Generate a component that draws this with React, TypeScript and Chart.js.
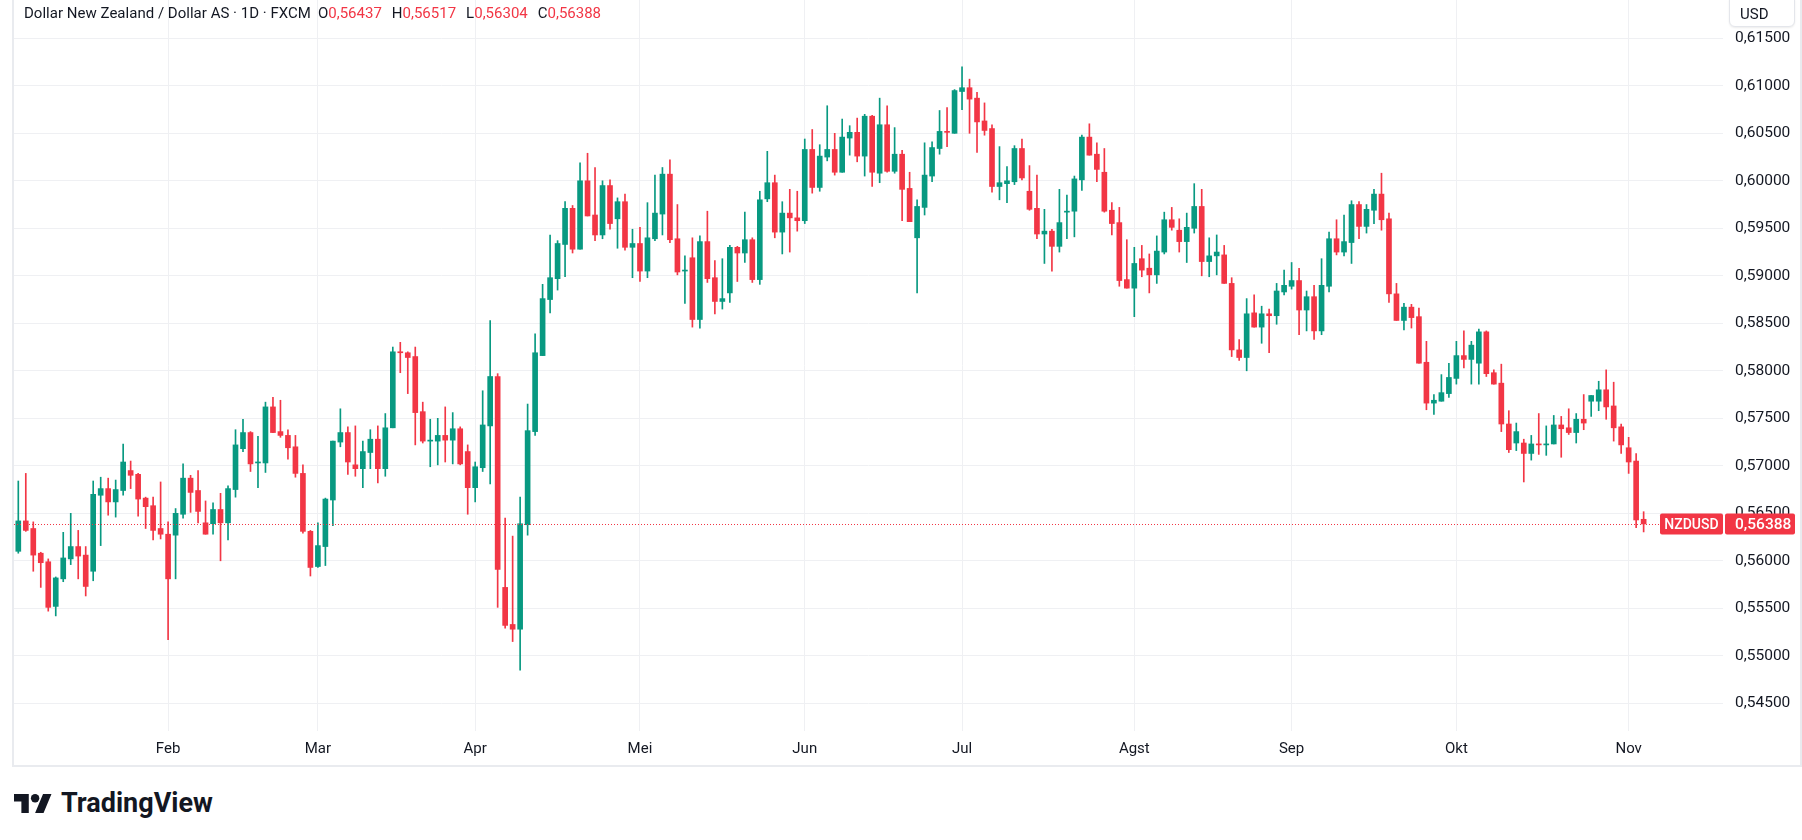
import React, { useEffect, useRef } from 'react';
import { Chart, registerables } from 'chart.js';

Chart.register(...registerables);

// ---- data (daily candles, 6 Jan 2025 .. 5 Nov 2025) ----
const opens = [
  0.5610, 0.5642, 0.5634, 0.5608, 0.5599, 0.5552, 0.5581, 0.5602, 0.5615, 0.5606,
  0.5589, 0.5669, 0.5676, 0.5662, 0.5674, 0.5695, 0.5691, 0.5666, 0.5658, 0.5634,
  0.5628, 0.5627, 0.5649, 0.5687, 0.5674, 0.5640, 0.5639, 0.5654, 0.5640, 0.5675,
  0.5718, 0.5735, 0.5703, 0.5703, 0.5762, 0.5736, 0.5732, 0.5720, 0.5692, 0.5631,
  0.5594, 0.5615, 0.5664, 0.5725, 0.5735, 0.5701, 0.5697, 0.5714, 0.5728, 0.5697,
  0.5740, 0.5820, 0.5819, 0.5815, 0.5757, 0.5726, 0.5726, 0.5732, 0.5727, 0.5739,
  0.5715, 0.5677, 0.5698, 0.5742, 0.5794, 0.5572, 0.5533, 0.5528, 0.5638, 0.5736,
  0.5816, 0.5875, 0.5897, 0.5933, 0.5971, 0.5928, 0.6000, 0.5964, 0.5943, 0.5995,
  0.5960, 0.5978, 0.5930, 0.5934, 0.5905, 0.5939, 0.5965, 0.6007, 0.5939, 0.5905,
  0.5919, 0.5854, 0.5936, 0.5898, 0.5873, 0.5882, 0.5930, 0.5924, 0.5938, 0.5896,
  0.5981, 0.5998, 0.5946, 0.5966, 0.5961, 0.5958, 0.6033, 0.5993, 0.6025, 0.6033,
  0.6009, 0.6045, 0.6051, 0.6026, 0.6068, 0.6008, 0.6059, 0.6010, 0.6028, 0.5992,
  0.5940, 0.5972, 0.6005, 0.6034, 0.6052, 0.6050, 0.6094, 0.6098, 0.6087, 0.6063,
  0.6055, 0.5994, 0.5997, 0.5999, 0.6034, 0.5989, 0.5971, 0.5944, 0.5947, 0.5931,
  0.5967, 0.5968, 0.6001, 0.6046, 0.6028, 0.6009, 0.5969, 0.5956, 0.5896, 0.5887,
  0.5918, 0.5908, 0.5901, 0.5925, 0.5959, 0.5948, 0.5936, 0.5950, 0.5973, 0.5915,
  0.5921, 0.5922, 0.5892, 0.5822, 0.5814, 0.5861, 0.5846, 0.5860, 0.5858, 0.5883,
  0.5889, 0.5895, 0.5864, 0.5878, 0.5842, 0.5889, 0.5939, 0.5925, 0.5935, 0.5975,
  0.5952, 0.5969, 0.5986, 0.5960, 0.5881, 0.5853, 0.5867, 0.5857, 0.5809, 0.5766,
  0.5768, 0.5776, 0.5792, 0.5816, 0.5812, 0.5808, 0.5841, 0.5798, 0.5787, 0.5744,
  0.5724, 0.5724, 0.5713, 0.5723, 0.5722, 0.5723, 0.5743, 0.5740, 0.5735, 0.5749,
  0.5768, 0.5768, 0.5780, 0.5763, 0.5741, 0.5719, 0.5705, 0.56437,
];
const highs = [
  0.5684, 0.5692, 0.5641, 0.5609, 0.5602, 0.5583, 0.5630, 0.5650, 0.5632, 0.5615,
  0.5684, 0.5688, 0.5687, 0.5685, 0.5723, 0.5705, 0.5692, 0.5667, 0.5667, 0.5683,
  0.5641, 0.5655, 0.5702, 0.5690, 0.5695, 0.5663, 0.5661, 0.5671, 0.5679, 0.5738,
  0.5749, 0.5736, 0.5731, 0.5767, 0.5772, 0.5769, 0.5738, 0.5732, 0.5701, 0.5632,
  0.5640, 0.5666, 0.5726, 0.5760, 0.5741, 0.5742, 0.5726, 0.5738, 0.5742, 0.5755,
  0.5825, 0.5830, 0.5820, 0.5825, 0.5767, 0.5749, 0.5750, 0.5762, 0.5756, 0.5741,
  0.5722, 0.5704, 0.5779, 0.5853, 0.5797, 0.5645, 0.5626, 0.5667, 0.5765, 0.5839,
  0.5891, 0.5943, 0.5937, 0.5978, 0.5974, 0.6019, 0.6029, 0.6014, 0.6000, 0.6001,
  0.5982, 0.5986, 0.5949, 0.5951, 0.5977, 0.6006, 0.6014, 0.6022, 0.5975, 0.5921,
  0.5940, 0.5942, 0.5968, 0.5916, 0.5918, 0.5932, 0.5931, 0.5967, 0.5940, 0.5989,
  0.6031, 0.6006, 0.5978, 0.5991, 0.5989, 0.6044, 0.6054, 0.6038, 0.6079, 0.6050,
  0.6065, 0.6058, 0.6066, 0.6070, 0.6069, 0.6087, 0.6079, 0.6056, 0.6032, 0.6009,
  0.5980, 0.6040, 0.6041, 0.6074, 0.6077, 0.6096, 0.6120, 0.6107, 0.6093, 0.6082,
  0.6059, 0.6036, 0.6015, 0.6037, 0.6044, 0.6016, 0.6006, 0.5970, 0.5949, 0.5991,
  0.5985, 0.6005, 0.6048, 0.6060, 0.6040, 0.6034, 0.5977, 0.5972, 0.5938, 0.5930,
  0.5932, 0.5923, 0.5942, 0.5967, 0.5972, 0.5960, 0.5966, 0.5997, 0.5991, 0.5940,
  0.5943, 0.5932, 0.5898, 0.5833, 0.5876, 0.5880, 0.5868, 0.5865, 0.5892, 0.5906,
  0.5914, 0.5908, 0.5884, 0.5890, 0.5918, 0.5946, 0.5959, 0.5964, 0.5979, 0.5978,
  0.5975, 0.5991, 0.6008, 0.5966, 0.5892, 0.5871, 0.5870, 0.5866, 0.5831, 0.5775,
  0.5796, 0.5808, 0.5831, 0.5842, 0.5831, 0.5844, 0.5842, 0.5801, 0.5807, 0.5758,
  0.5745, 0.5728, 0.5732, 0.5755, 0.5742, 0.5753, 0.5752, 0.5760, 0.5755, 0.5775,
  0.5774, 0.5789, 0.5801, 0.5788, 0.5744, 0.5730, 0.5713, 0.56517,
];
const lows = [
  0.5608, 0.5631, 0.5589, 0.5572, 0.5547, 0.5542, 0.5578, 0.5596, 0.5581, 0.5563,
  0.5579, 0.5616, 0.5648, 0.5646, 0.5669, 0.5676, 0.5647, 0.5634, 0.5622, 0.5623,
  0.5517, 0.5581, 0.5645, 0.5651, 0.5640, 0.5628, 0.5628, 0.5600, 0.5622, 0.5667,
  0.5715, 0.5694, 0.5677, 0.5693, 0.5735, 0.5730, 0.5707, 0.5688, 0.5629, 0.5584,
  0.5593, 0.5595, 0.5637, 0.5720, 0.5691, 0.5689, 0.5677, 0.5697, 0.5682, 0.5689,
  0.5740, 0.5798, 0.5776, 0.5722, 0.5724, 0.5699, 0.5701, 0.5704, 0.5702, 0.5701,
  0.5649, 0.5662, 0.5694, 0.5681, 0.5551, 0.5529, 0.5515, 0.5485, 0.5627, 0.5732,
  0.5816, 0.5861, 0.5885, 0.5899, 0.5924, 0.5928, 0.5963, 0.5937, 0.5939, 0.5949,
  0.5929, 0.5927, 0.5898, 0.5894, 0.5898, 0.5937, 0.5943, 0.5935, 0.5901, 0.5871,
  0.5846, 0.5845, 0.5893, 0.5860, 0.5865, 0.5872, 0.5894, 0.5914, 0.5893, 0.5891,
  0.5978, 0.5940, 0.5923, 0.5925, 0.5947, 0.5955, 0.5987, 0.5989, 0.6021, 0.6006,
  0.6009, 0.6027, 0.6020, 0.6005, 0.5994, 0.5998, 0.6009, 0.6008, 0.5958, 0.5957,
  0.5882, 0.5964, 0.5999, 0.6028, 0.6036, 0.6050, 0.6075, 0.6050, 0.6030, 0.6048,
  0.5988, 0.5980, 0.5977, 0.5996, 0.6001, 0.5969, 0.5939, 0.5913, 0.5905, 0.5925,
  0.5939, 0.5941, 0.5990, 0.6027, 0.5999, 0.5967, 0.5943, 0.5889, 0.5887, 0.5857,
  0.5899, 0.5882, 0.5892, 0.5923, 0.5948, 0.5925, 0.5914, 0.5945, 0.5900, 0.5899,
  0.5901, 0.5892, 0.5815, 0.5811, 0.5800, 0.5846, 0.5829, 0.5819, 0.5849, 0.5880,
  0.5886, 0.5838, 0.5842, 0.5833, 0.5838, 0.5883, 0.5922, 0.5921, 0.5913, 0.5939,
  0.5945, 0.5955, 0.5948, 0.5872, 0.5853, 0.5843, 0.5845, 0.5808, 0.5759, 0.5754,
  0.5768, 0.5772, 0.5786, 0.5803, 0.5786, 0.5786, 0.5794, 0.5786, 0.5736, 0.5714,
  0.5716, 0.5683, 0.5706, 0.5712, 0.5711, 0.5723, 0.5709, 0.5733, 0.5724, 0.5738,
  0.5752, 0.5758, 0.5749, 0.5726, 0.5713, 0.5692, 0.5635, 0.56304,
];
const closes = [
  0.5642, 0.5632, 0.5606, 0.5598, 0.5551, 0.5582, 0.5603, 0.5615, 0.5605, 0.5573,
  0.5670, 0.5676, 0.5662, 0.5675, 0.5704, 0.5690, 0.5665, 0.5657, 0.5632, 0.5628,
  0.5581, 0.5650, 0.5687, 0.5672, 0.5652, 0.5628, 0.5654, 0.5640, 0.5676, 0.5722,
  0.5735, 0.5702, 0.5704, 0.5762, 0.5735, 0.5732, 0.5719, 0.5692, 0.5631, 0.5593,
  0.5616, 0.5665, 0.5726, 0.5735, 0.5704, 0.5697, 0.5715, 0.5728, 0.5697, 0.5740,
  0.5820, 0.5819, 0.5814, 0.5756, 0.5726, 0.5727, 0.5732, 0.5727, 0.5739, 0.5702,
  0.5677, 0.5699, 0.5743, 0.5794, 0.5591, 0.5532, 0.5528, 0.5639, 0.5737, 0.5819,
  0.5876, 0.5898, 0.5934, 0.5971, 0.5928, 0.6000, 0.5963, 0.5943, 0.5995, 0.5955,
  0.5978, 0.5930, 0.5934, 0.5905, 0.5940, 0.5966, 0.6007, 0.5938, 0.5904, 0.5906,
  0.5854, 0.5936, 0.5897, 0.5873, 0.5876, 0.5930, 0.5924, 0.5938, 0.5896, 0.5980,
  0.5998, 0.5946, 0.5966, 0.5961, 0.5958, 0.6033, 0.5993, 0.6026, 0.6033, 0.6009,
  0.6046, 0.6051, 0.6026, 0.6068, 0.6009, 0.6059, 0.6010, 0.6028, 0.5991, 0.5957,
  0.5973, 0.6006, 0.6035, 0.6052, 0.6051, 0.6095, 0.6098, 0.6086, 0.6062, 0.6053,
  0.5994, 0.5998, 0.6000, 0.6034, 0.6003, 0.5970, 0.5944, 0.5947, 0.5931, 0.5956,
  0.5968, 0.6002, 0.6046, 0.6027, 0.6012, 0.5968, 0.5955, 0.5895, 0.5887, 0.5913,
  0.5906, 0.5901, 0.5926, 0.5959, 0.5951, 0.5936, 0.5951, 0.5973, 0.5915, 0.5921,
  0.5925, 0.5892, 0.5822, 0.5814, 0.5860, 0.5846, 0.5860, 0.5858, 0.5884, 0.5890,
  0.5895, 0.5864, 0.5878, 0.5842, 0.5890, 0.5939, 0.5925, 0.5936, 0.5975, 0.5952,
  0.5970, 0.5986, 0.5959, 0.5881, 0.5853, 0.5867, 0.5856, 0.5808, 0.5766, 0.5769,
  0.5777, 0.5793, 0.5816, 0.5812, 0.5827, 0.5841, 0.5797, 0.5786, 0.5744, 0.5717,
  0.5736, 0.5713, 0.5723, 0.5722, 0.5723, 0.5743, 0.5739, 0.5735, 0.5749, 0.5745,
  0.5774, 0.5780, 0.5762, 0.5740, 0.5722, 0.5704, 0.5643, 0.56388,
];

// x-axis: first trading day of each month (bar index) and its label
const monthTickIndex = [20, 40, 61, 83, 105, 126, 149, 170, 192, 215];
const monthTickLabels = ['Feb', 'Mar', 'Apr', 'Mei', 'Jun', 'Jul', 'Agst', 'Sep', 'Okt', 'Nov'];
// y-axis tick values
const priceTicks = [0.545, 0.55, 0.555, 0.56, 0.565, 0.57, 0.575, 0.58, 0.585, 0.59, 0.595, 0.6, 0.605, 0.61, 0.615];

const symbolName = 'NZDUSD';
const titleText = 'Dollar New Zealand / Dollar AS · 1D · FXCM';
const ohlcKeys = ['O', 'H', 'L', 'C'];
const ohlcValues = [0.56437, 0.56517, 0.56304, 0.56388];
const lastPrice = 0.56388;
const currencyLabel = 'USD';

// ---- styles ----
const GREEN = '#089981';
const RED = '#F23645';
const GRID = '#eff0f3';
const TEXT = '#131722';
const FONT = 'Roboto, "Noto Sans", sans-serif';

const fmt = (v: number) => v.toFixed(5).replace('.', ',');

const CANVAS_W = 1786;
const CANVAS_H = 765;
const Y_AXIS_W = 77;
const X_AXIS_H = 34;
const BAR_STEP = 7.49;
const FIRST_BAR_OFFSET = 4.3;
const PLOT_W = CANVAS_W - Y_AXIS_W;
const X_MIN = -FIRST_BAR_OFFSET / BAR_STEP;
const X_MAX = X_MIN + PLOT_W / BAR_STEP;
const Y_MIN = 0.542085;
const Y_MAX = 0.619032;

function roundRect(ctx: CanvasRenderingContext2D, x: number, y: number, w: number, h: number, r: number) {
  ctx.beginPath();
  ctx.moveTo(x + r, y);
  ctx.lineTo(x + w - r, y);
  ctx.quadraticCurveTo(x + w, y, x + w, y + r);
  ctx.lineTo(x + w, y + h - r);
  ctx.quadraticCurveTo(x + w, y + h, x + w - r, y + h);
  ctx.lineTo(x + r, y + h);
  ctx.quadraticCurveTo(x, y + h, x, y + h - r);
  ctx.lineTo(x, y + r);
  ctx.quadraticCurveTo(x, y, x + r, y);
  ctx.closePath();
}

const priceLinePlugin = {
  id: 'priceLine',
  afterDraw(chart: any) {
    const { ctx, chartArea, scales } = chart;
    const py = Math.round(scales.y.getPixelForValue(lastPrice));
    const symW = 63;
    const boxH = 21;
    ctx.save();
    ctx.strokeStyle = RED;
    ctx.lineWidth = 1;
    ctx.setLineDash([1, 2]);
    ctx.beginPath();
    ctx.moveTo(chartArea.left, py + 0.5);
    ctx.lineTo(chartArea.right - symW, py + 0.5);
    ctx.stroke();
    ctx.setLineDash([]);
    ctx.fillStyle = RED;
    roundRect(ctx, chartArea.right - symW, py - boxH / 2, symW, boxH, 2);
    ctx.fill();
    roundRect(ctx, chartArea.right + 2, py - boxH / 2, 70, boxH, 2);
    ctx.fill();
    ctx.fillStyle = '#ffffff';
    ctx.textBaseline = 'middle';
    ctx.textAlign = 'center';
    ctx.font = `500 14px ${FONT}`;
    ctx.fillText(symbolName, chartArea.right - symW / 2, py + 1);
    ctx.textAlign = 'left';
    ctx.font = `500 15.5px ${FONT}`;
    ctx.fillText(fmt(lastPrice), chartArea.right + 12, py + 1);
    ctx.restore();
  },
};

function CandleChart() {
  const ref = useRef<HTMLCanvasElement | null>(null);
  useEffect(() => {
    if (!ref.current) return;
    const colors = closes.map((c, i) => (c >= opens[i] ? GREEN : RED));
    const bodies = opens.map((o, i) => ({ x: i, y: [o, closes[i]] }));
    const wicks = lows.map((l, i) => ({ x: i, y: [l, highs[i]] }));
    const chart = new Chart(ref.current, {
      type: 'bar',
      data: {
        datasets: [
          {
            label: 'body',
            data: bodies as any,
            backgroundColor: colors,
            barThickness: 5,
            minBarLength: 1,
            borderWidth: 0,
            borderSkipped: false,
            grouped: false,
          } as any,
          {
            label: 'wick',
            data: wicks as any,
            backgroundColor: colors,
            barThickness: 1,
            minBarLength: 1,
            borderWidth: 0,
            borderSkipped: false,
            grouped: false,
          } as any,
        ],
      },
      options: {
        animation: false,
        responsive: false,
        maintainAspectRatio: false,
        events: [],
        layout: { padding: 0 },
        plugins: { legend: { display: false }, tooltip: { enabled: false } },
        scales: {
          x: {
            type: 'linear',
            min: X_MIN,
            max: X_MAX,
            bounds: 'data',
            offset: false,
            grid: { color: GRID, lineWidth: 1, drawTicks: false, offset: false },
            border: { display: false },
            ticks: {
              padding: 9,
              color: TEXT,
              font: { family: FONT, size: 15 },
              maxRotation: 0,
              autoSkip: false,
              callback: (v: any) => {
                const k = monthTickIndex.indexOf(Number(v));
                return k >= 0 ? monthTickLabels[k] : '';
              },
            },
            afterBuildTicks: (scale: any) => {
              scale.ticks = monthTickIndex.map((v) => ({ value: v }));
            },
            afterFit: (scale: any) => {
              scale.height = X_AXIS_H;
              scale.paddingLeft = 0;
              scale.paddingRight = 0;
            },
          } as any,
          y: {
            type: 'linear',
            position: 'right',
            min: Y_MIN,
            max: Y_MAX,
            bounds: 'data',
            grid: { color: GRID, lineWidth: 1, drawTicks: false },
            border: { display: false },
            ticks: {
              padding: 12,
              color: TEXT,
              font: { family: FONT, size: 15.5 },
              crossAlign: 'near',
              callback: (v: any) => fmt(Number(v)),
            },
            afterBuildTicks: (scale: any) => {
              scale.ticks = priceTicks.map((v) => ({ value: v }));
            },
            afterFit: (scale: any) => {
              scale.width = Y_AXIS_W;
              scale.paddingTop = 0;
              scale.paddingBottom = 0;
            },
          } as any,
        },
      },
      plugins: [priceLinePlugin],
    });
    return () => chart.destroy();
  }, []);
  return (
    <canvas
      ref={ref}
      width={CANVAS_W}
      height={CANVAS_H}
      style={{ width: CANVAS_W, height: CANVAS_H, display: 'block' }}
    />
  );
}

export default function App() {
  return (
    <div
      style={{
        position: 'fixed',
        left: 0,
        top: 0,
        width: 1802,
        height: 840,
        background: '#ffffff',
        overflow: 'hidden',
        fontFamily: FONT,
        color: TEXT,
      }}
    >
      <div
        style={{
          position: 'absolute',
          left: 12,
          top: 0,
          width: CANVAS_W,
          height: CANVAS_H,
          borderLeft: '2px solid #e9ebef',
          borderRight: '2px solid #e9ebef',
          borderBottom: '2px solid #e9ebef',
        }}
      >
        <CandleChart />
      </div>

      {/* legend header */}
      <div
        style={{
          position: 'absolute',
          left: 24,
          top: 0,
          height: 25,
          display: 'flex',
          alignItems: 'center',
          fontSize: 15,
          whiteSpace: 'nowrap',
        }}
      >
        <span style={{ letterSpacing: 0.02 }}>{titleText}</span>
        {ohlcKeys.map((k, i) => (
          <span key={k} style={{ marginLeft: i === 0 ? 7 : 10 }}>
            <span style={{ color: TEXT }}>{k}</span>
            <span style={{ color: RED }}>{fmt(ohlcValues[i])}</span>
          </span>
        ))}
      </div>

      {/* currency box */}
      <div
        style={{
          position: 'absolute',
          left: 1729,
          top: -6,
          width: 66,
          height: 33,
          background: '#ffffff',
          border: '1px solid #e4e6eb',
          borderRadius: 6,
          boxShadow: '0 1px 2px rgba(0,0,0,0.08)',
          fontSize: 15,
          lineHeight: '38px',
          paddingLeft: 10,
          boxSizing: 'border-box',
        }}
      >
        {currencyLabel}
      </div>

      {/* TradingView logo */}
      <svg
        style={{ position: 'absolute', left: 14, top: 794 }}
        width={38}
        height={19}
        viewBox="0 4 36 18"
      >
        <path d="M14 22H7V11H0V4h14v18zM28 22h-8l7.5-18h8L28 22z" fill="#131722" />
        <circle cx="20" cy="8" r="4" fill="#131722" />
      </svg>
      <div
        style={{
          position: 'absolute',
          left: 61,
          top: 788,
          height: 30,
          lineHeight: '30px',
          fontSize: 27,
          fontWeight: 700,
          letterSpacing: 0,
          color: '#131722',
          whiteSpace: 'nowrap',
        }}
      >
        TradingView
      </div>
    </div>
  );
}
